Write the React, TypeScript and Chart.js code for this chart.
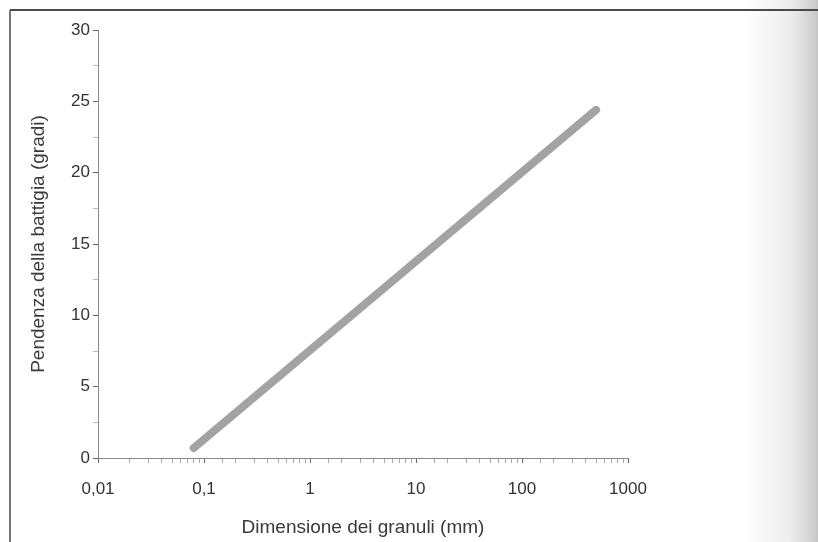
import React, { useEffect, useRef } from "react";
import { Chart, registerables } from "chart.js";

Chart.register(...registerables);

// Data
const grainSizeMm: number[] = [0.08, 500];
const beachSlopeDeg: number[] = [0.7, 24.4];

const xTickValues: number[] = [0.01, 0.1, 1, 10, 100, 1000];
const xTickLabels: string[] = ["0,01", "0,1", "1", "10", "100", "1000"];
const yTickLabels: string[] = ["0", "5", "10", "15", "20", "25", "30"];

const xTitle = "Dimensione dei granuli (mm)";
const yTitle = "Pendenza della battigia (gradi)";

const FONT = "'Liberation Sans', Arial, Helvetica, sans-serif";

const framePlugin = {
  id: "frame",
  beforeDraw(chart: any) {
    const { ctx, width, height } = chart;
    ctx.save();
    ctx.fillStyle = "#ffffff";
    ctx.fillRect(0, 0, width, height);
    const g = ctx.createLinearGradient(745, 0, width, 0);
    g.addColorStop(0, "rgba(200,200,200,0)");
    g.addColorStop(0.6, "rgba(205,205,205,0.35)");
    g.addColorStop(1, "rgba(185,185,185,0.8)");
    ctx.fillStyle = g;
    ctx.fillRect(745, 0, width - 745, height);
    ctx.strokeStyle = "#4a4a4a";
    ctx.lineWidth = 2;
    ctx.beginPath();
    ctx.moveTo(10, 10);
    ctx.lineTo(width, 10);
    ctx.stroke();
    ctx.lineWidth = 1.5;
    ctx.beginPath();
    ctx.moveTo(10, 10);
    ctx.lineTo(10, height);
    ctx.stroke();
    ctx.restore();
  },
};

function isPow10(v: number): number {
  for (let i = 0; i < xTickValues.length; i++) {
    if (Math.abs(v - xTickValues[i]) / xTickValues[i] < 1e-6) return i;
  }
  return -1;
}

export default function App() {
  const ref = useRef<HTMLCanvasElement | null>(null);

  useEffect(() => {
    if (!ref.current) return;
    const chart = new Chart(ref.current, {
      type: "line",
      data: {
        datasets: [
          {
            data: grainSizeMm.map((x, i) => ({ x, y: beachSlopeDeg[i] })),
            borderColor: "#a3a3a3",
            borderWidth: 8,
            borderCapStyle: "round",
            pointRadius: 0,
            fill: false,
            tension: 0,
          },
        ],
      },
      options: {
        animation: false,
        responsive: false,
        devicePixelRatio: 1,
        layout: { padding: { left: 0, right: 190, top: 30, bottom: 0 } },
        plugins: {
          legend: { display: false },
          tooltip: { enabled: false },
        },
        scales: {
          x: {
            type: "logarithmic",
            min: 0.01,
            max: 1000,
            afterFit: (s: any) => {
              s.height = 84;
            },
            border: { display: true, color: "#8a8a8a", width: 1 },
            grid: {
              display: true,
              drawOnChartArea: false,
              drawTicks: true,
              tickLength: 5,
              tickColor: (c: any) =>
                c.tick && isPow10(c.tick.value) >= 0 ? "#666" : "#aaa",
            },
            ticks: {
              autoSkip: false,
              maxRotation: 0,
              minRotation: 0,
              padding: 16,
              color: "#333",
              font: { family: FONT, size: 17 },
              callback: (v: any) => {
                const i = isPow10(Number(v));
                return i >= 0 ? xTickLabels[i] : "";
              },
            },
            title: {
              display: true,
              text: xTitle,
              color: "#3a3a3a",
              font: { family: FONT, size: 19 },
              padding: { top: 0, bottom: 3 },
            },
          },
          y: {
            type: "linear",
            min: 0,
            max: 30,
            afterFit: (s: any) => {
              s.width = 98;
            },
            border: { display: true, color: "#8a8a8a", width: 1 },
            grid: {
              display: true,
              drawOnChartArea: false,
              drawTicks: true,
              tickLength: 5,
              tickColor: (c: any) =>
                c.tick && c.tick.value % 5 === 0 ? "#666" : "#bbb",
            },
            ticks: {
              stepSize: 2.5,
              autoSkip: false,
              padding: 3,
              color: "#333",
              font: { family: FONT, size: 17 },
              callback: (v: any) => {
                const n = Number(v);
                if (n % 5 !== 0) return "";
                return yTickLabels[n / 5];
              },
            },
            title: {
              display: true,
              text: yTitle,
              color: "#3a3a3a",
              font: { family: FONT, size: 19 },
              padding: { top: 27, bottom: 0 },
            },
          },
        },
      },
      plugins: [framePlugin],
    } as any);
    return () => chart.destroy();
  }, []);

  return (
    <div
      style={{
        position: "fixed",
        left: 0,
        top: 0,
        width: 818,
        height: 542,
        background: "#fff",
      }}
    >
      <canvas ref={ref} width={818} height={542} style={{ display: "block" }} />
    </div>
  );
}
